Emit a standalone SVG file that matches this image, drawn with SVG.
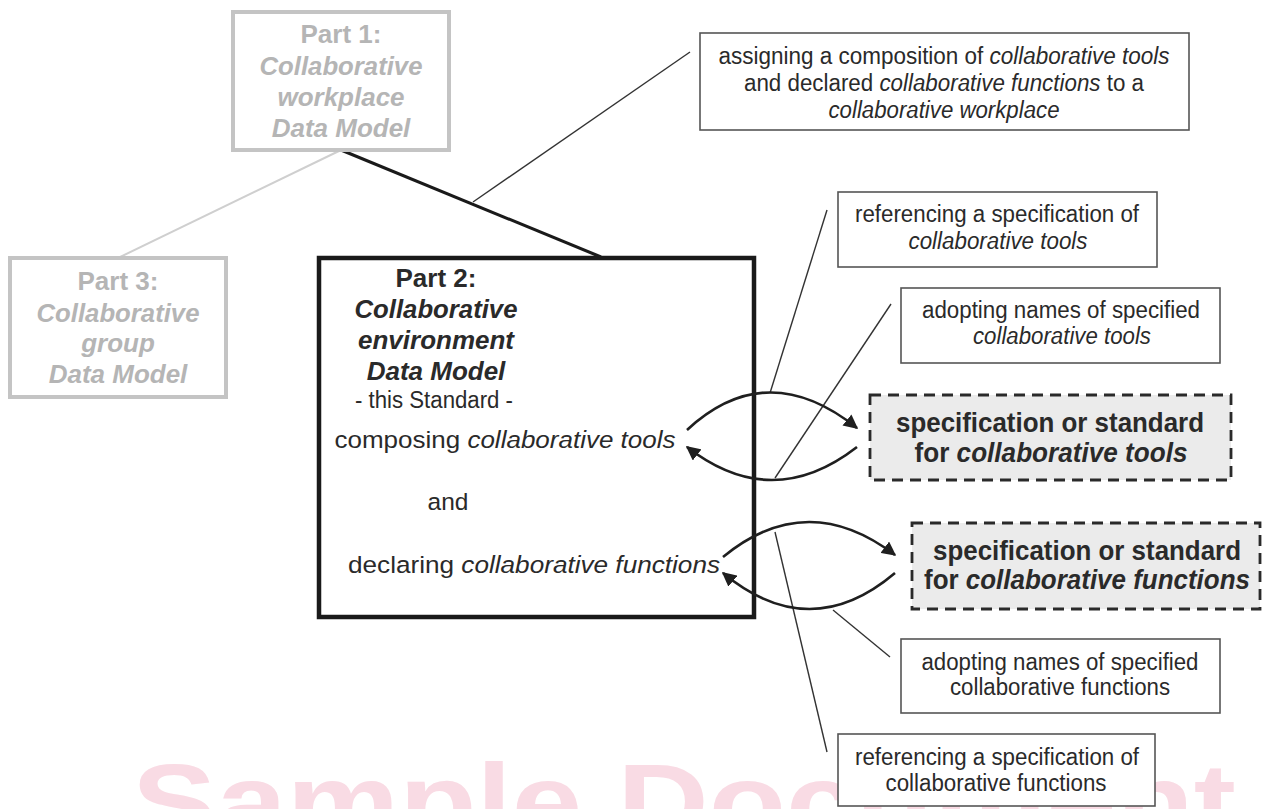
<svg xmlns="http://www.w3.org/2000/svg" width="1262" height="809" viewBox="0 0 1262 809">
<style>
text{font-family:"Liberation Sans",Arial,sans-serif;fill:#2a2a2a;text-anchor:middle}
.i{font-style:italic}
.b{font-weight:bold}
.g{fill:#b5b5b5}
.gbox{fill:#fff;stroke:#c4c4c4;stroke-width:4}
.mbox{fill:#fff;stroke:#1a1a1a;stroke-width:4.5}
.nbox{fill:#fff;stroke:#555;stroke-width:1.6}
.dbox{fill:#ebebeb;stroke:#2a2a2a;stroke-width:2.8;stroke-dasharray:11 7}
.lead{stroke:#333;stroke-width:1.4;fill:none}
.arc{stroke:#1f1f1f;stroke-width:2.6;fill:none;marker-end:url(#ah)}
.t22{font-size:23px}
.t24{font-size:24.5px}
.t26{font-size:26px}
.t28{font-size:28.5px}
</style>
<defs>
<marker id="ah" viewBox="0 0 10 10" refX="9" refY="5" markerWidth="5.5" markerHeight="5.5" orient="auto" markerUnits="strokeWidth">
<path d="M0,0 L10,5 L0,10 z" fill="#1f1f1f"/>
</marker>
</defs>
<rect width="1262" height="809" fill="#fff"/>
<text id="watermark" x="684" y="839" class="b" style="font-size:107px;fill:#f9dbe4" textLength="1104" lengthAdjust="spacingAndGlyphs">Sample Document</text>

<g id="connectors">
<line x1="341" y1="150" x2="118" y2="258" stroke="#cfcfcf" stroke-width="2"/>
<line x1="341" y1="150" x2="601" y2="257" stroke="#1a1a1a" stroke-width="3"/>
<line class="lead" x1="690" y1="52" x2="473" y2="202"/>
<line class="lead" x1="827" y1="210" x2="770" y2="393"/>
<line class="lead" x1="891" y1="304" x2="775" y2="478"/>
<line class="lead" x1="833" y1="610" x2="890" y2="657"/>
<line class="lead" x1="775" y1="532" x2="827" y2="752"/>
</g>

<g id="part1">
<rect class="gbox" x="233" y="12" width="216" height="138"/>
<text class="b g t26" x="341" y="43">Part 1:</text>
<text class="b i g t26" x="341" y="75" textLength="163" lengthAdjust="spacingAndGlyphs">Collaborative</text>
<text class="b i g t26" x="341" y="106">workplace</text>
<text class="b i g t26" x="341" y="137">Data Model</text>
</g>

<g id="part3">
<rect class="gbox" x="10" y="258" width="216" height="139"/>
<text class="b g t26" x="118" y="290">Part 3:</text>
<text class="b i g t26" x="118" y="322" textLength="163" lengthAdjust="spacingAndGlyphs">Collaborative</text>
<text class="b i g t26" x="118" y="352">group</text>
<text class="b i g t26" x="118" y="383">Data Model</text>
</g>

<g id="part2">
<rect class="mbox" x="319" y="258" width="435" height="359"/>
<text class="b t26" x="436" y="287">Part 2:</text>
<text class="b i t26" x="436" y="318" textLength="163" lengthAdjust="spacingAndGlyphs">Collaborative</text>
<text class="b i t26" x="436" y="349">environment</text>
<text class="b i t26" x="436" y="380">Data Model</text>
<text class="t22" x="434" y="408" textLength="158" lengthAdjust="spacingAndGlyphs">- this Standard -</text>
<text class="t24" x="505" y="448" textLength="341" lengthAdjust="spacingAndGlyphs">composing <tspan class="i">collaborative tools</tspan></text>
<text class="t24" x="448" y="510">and</text>
<text class="t24" x="534" y="573" textLength="372" lengthAdjust="spacingAndGlyphs">declaring <tspan class="i">collaborative functions</tspan></text>
</g>

<g id="assign">
<rect class="nbox" x="700" y="33" width="489" height="97"/>
<text class="t22" x="944" y="64" textLength="451" lengthAdjust="spacingAndGlyphs">assigning a composition of <tspan class="i">collaborative tools</tspan></text>
<text class="t22" x="944" y="91" textLength="400" lengthAdjust="spacingAndGlyphs">and declared <tspan class="i">collaborative functions</tspan> to a</text>
<text class="t22 i" x="944" y="118" textLength="231" lengthAdjust="spacingAndGlyphs">collaborative workplace</text>
</g>

<g id="ref-tools">
<rect class="nbox" x="838" y="192" width="319" height="75"/>
<text class="t22" x="997" y="222" textLength="284" lengthAdjust="spacingAndGlyphs">referencing a specification of</text>
<text class="t22 i" x="998" y="249" textLength="179" lengthAdjust="spacingAndGlyphs">collaborative tools</text>
</g>

<g id="adopt-tools">
<rect class="nbox" x="901" y="288" width="319" height="75"/>
<text class="t22" x="1061" y="318" textLength="278" lengthAdjust="spacingAndGlyphs">adopting names of specified</text>
<text class="t22 i" x="1062" y="344" textLength="178" lengthAdjust="spacingAndGlyphs">collaborative tools</text>
</g>

<g id="spec-tools">
<rect class="dbox" x="870" y="395" width="361" height="85"/>
<text class="b t28" x="1050" y="432" textLength="308" lengthAdjust="spacingAndGlyphs">specification or standard</text>
<text class="b t28" x="1051" y="462" textLength="273" lengthAdjust="spacingAndGlyphs">for <tspan class="i">collaborative tools</tspan></text>
</g>

<g id="spec-functions">
<rect class="dbox" x="912" y="523" width="348" height="86"/>
<text class="b t28" x="1087" y="560" textLength="308" lengthAdjust="spacingAndGlyphs">specification or standard</text>
<text class="b t28" x="1087" y="589" textLength="326" lengthAdjust="spacingAndGlyphs">for <tspan class="i">collaborative functions</tspan></text>
</g>

<g id="adopt-functions">
<rect class="nbox" x="901" y="639" width="319" height="74"/>
<text class="t22" x="1060" y="670" textLength="277" lengthAdjust="spacingAndGlyphs">adopting names of specified</text>
<text class="t22" x="1060" y="695" textLength="220" lengthAdjust="spacingAndGlyphs">collaborative functions</text>
</g>

<g id="ref-functions">
<rect class="nbox" x="838" y="734" width="317" height="72"/>
<text class="t22" x="997" y="765" textLength="284" lengthAdjust="spacingAndGlyphs">referencing a specification of</text>
<text class="t22" x="996" y="791" textLength="221" lengthAdjust="spacingAndGlyphs">collaborative functions</text>
</g>

<g id="arcs">
<path class="arc" d="M687,430 Q767,356 857,428"/>
<path class="arc" d="M857,447 Q772,513 687,447"/>
<path class="arc" d="M723,557 Q807,488 895,555"/>
<path class="arc" d="M895,573 Q810,645 723,573"/>
</g>
</svg>
